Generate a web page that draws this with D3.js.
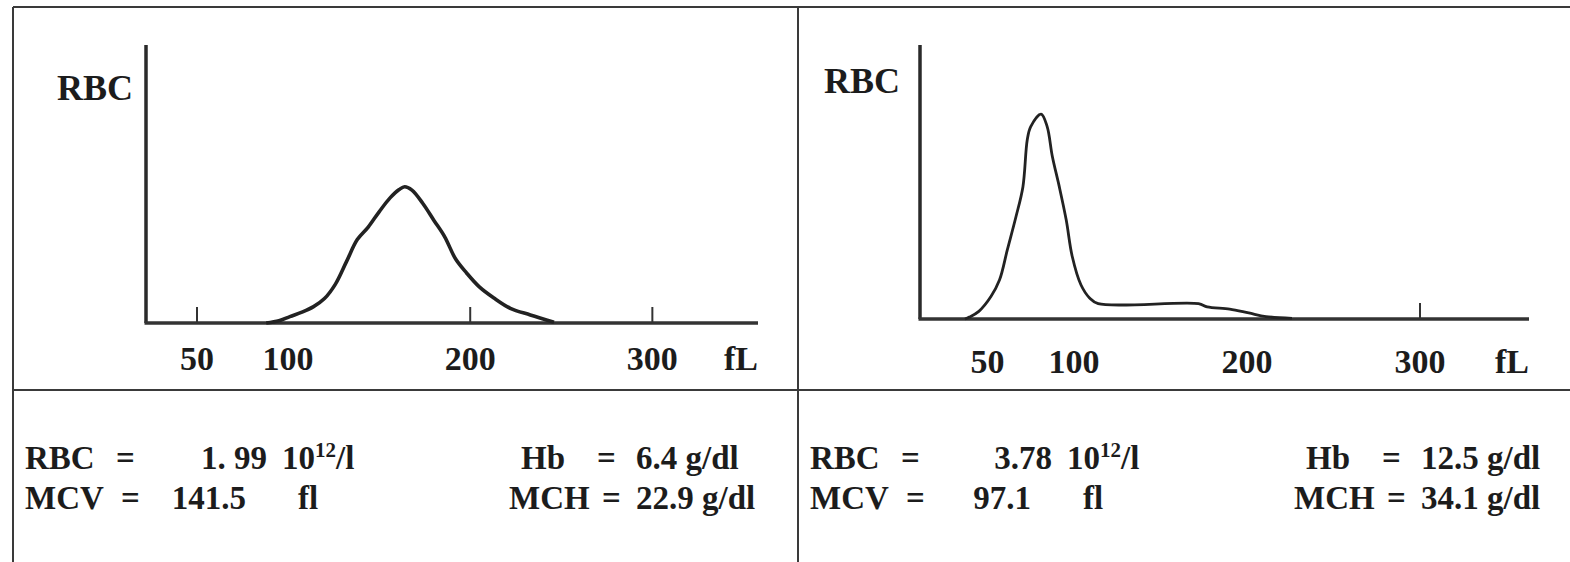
<!DOCTYPE html>
<html>
<head>
<meta charset="utf-8">
<script src="https://cdn.jsdelivr.net/npm/d3@7"></script>
<style>
  html, body { margin: 0; padding: 0; background: #fff; }
  svg { display: block; }
  text { font-family: "Liberation Serif", "Times New Roman", serif; font-weight: bold; fill: #1c1c1c; }
</style>
</head>
<body>
<div id="d3_chart"></div>
<script>
// RBC volume histograms (fL vs relative count)
const fl_left = [88, 95, 101, 108, 114, 120, 126, 132, 138, 144, 150, 156, 161, 164, 168, 174, 180, 186, 192, 198, 205, 213, 222, 233, 246]
const count_left = [0, 0.8, 2.3, 4.0, 5.9, 8.8, 14, 22, 30, 34.5, 40, 45, 48, 49, 47.8, 43, 37, 31, 23, 18, 13, 9, 5.3, 2.9, 0.3]
const fl_right = [37, 39.5, 45, 52, 57, 61.5, 66.5, 70.5, 73, 75, 81, 84.5, 87.5, 91.5, 95.5, 99, 104, 109, 114, 172, 177, 190, 201, 211, 226]
const count_right = [0, 0.7, 2.8, 8.2, 14.3, 25.3, 37.4, 48.3, 65.4, 70.2, 74.8, 70.2, 59.3, 48.3, 36.2, 22.8, 12.5, 7.7, 5.6, 5.6, 4.4, 3.6, 2.2, 0.9, 0.2]
const tick_labels = [50, 100, 200, 300]
const ticks_left = [50, 200, 300]
const ticks_right = [300]

// blood count values under each histogram
const rbc_values = ['1. 99', '3.78']
const mcv_values = ['141.5', '97.1']
const hb_values = ['6.4', '12.5']
const mch_values = ['22.9', '34.1']

const W = 1570, H = 562
const panels = [
	{x0: 13, range: [146, 758], domain: [22, 358], top: 45, base: 323, ticks: ticks_left, fl: fl_left, count: count_left, label_y: 370, rbc: [133, 100]},
	{x0: 798, range: [920, 1529], domain: [11, 363], top: 45, base: 319, ticks: ticks_right, fl: fl_right, count: count_right, label_y: 373, rbc: [900, 93]}
]

const svg = d3.select('#d3_chart').append('svg')
	.attr('width', W).attr('height', H)

// table lines
const grid = svg.append('g').attr('stroke', '#3a3a3a').attr('stroke-width', 2)
grid.append('line').attr('x1', 13).attr('x2', W).attr('y1', 7).attr('y2', 7)
grid.append('line').attr('x1', 13).attr('x2', W).attr('y1', 390).attr('y2', 390)
grid.append('line').attr('x1', 13).attr('x2', 13).attr('y1', 7).attr('y2', H)
grid.append('line').attr('x1', 798).attr('x2', 798).attr('y1', 7).attr('y2', H)

panels.forEach((p, i) => {
	const x = d3.scaleLinear().domain(p.domain).range(p.range)
	const y = d3.scaleLinear().domain([0, 100]).range([p.base, p.top])
	const g = svg.append('g')

	// y axis
	g.append('line')
		.attr('x1', p.range[0]).attr('x2', p.range[0])
		.attr('y1', y(100)).attr('y2', y(0))
		.attr('stroke', '#2a2a2a').attr('stroke-width', 3.5)
	// x axis
	g.append('line')
		.attr('x1', p.range[0] - 1.5).attr('x2', p.range[1])
		.attr('y1', y(0)).attr('y2', y(0))
		.attr('stroke', '#333').attr('stroke-width', 3.5)
	g.selectAll('.tick').data(p.ticks).enter().append('line')
		.attr('class', 'tick')
		.attr('x1', d => x(d)).attr('x2', d => x(d))
		.attr('y1', y(0)).attr('y2', y(0) - 16)
		.attr('stroke', '#333').attr('stroke-width', 2)

	g.selectAll('.tlabel').data(tick_labels).enter().append('text')
		.attr('class', 'tlabel')
		.attr('x', d => x(d)).attr('y', p.label_y)
		.attr('text-anchor', 'middle')
		.style('font-size', '34px')
		.text(d => d)
	g.append('text')
		.attr('x', p.range[1]).attr('y', p.label_y)
		.attr('text-anchor', 'end')
		.style('font-size', '34px')
		.text('fL')
	g.append('text')
		.attr('x', p.rbc[0]).attr('y', p.rbc[1])
		.attr('text-anchor', 'end')
		.style('font-size', '36px')
		.text('RBC')

	const line = d3.line()
		.x((d, j) => x(p.fl[j]))
		.y(d => y(d))
		.curve(d3.curveCatmullRom.alpha(0.5))
	g.append('path')
		.attr('d', line(p.count))
		.attr('fill', 'none')
		.attr('stroke', '#222')
		.attr('stroke-width', i == 0 ? 3.6 : 2.8)
		.attr('stroke-linejoin', 'round')

	// values table
	const t = svg.append('g').style('font-size', '33px')
	const r1 = 469, r2 = 509
	t.append('text').attr('x', p.x0 + 12).attr('y', r1).text('RBC')
	t.append('text').attr('x', p.x0 + 103).attr('y', r1).text('=')
	t.append('text').attr('x', p.x0 + 254).attr('y', r1).attr('text-anchor', 'end').text(rbc_values[i])
	const u = t.append('text').attr('x', p.x0 + 269).attr('y', r1)
	u.append('tspan').text('10')
	u.append('tspan').attr('dy', -12).style('font-size', '21px').text('12')
	u.append('tspan').attr('dy', 12).text('/l')

	t.append('text').attr('x', p.x0 + 12).attr('y', r2).text('MCV')
	t.append('text').attr('x', p.x0 + 108).attr('y', r2).text('=')
	t.append('text').attr('x', p.x0 + 233).attr('y', r2).attr('text-anchor', 'end').text(mcv_values[i])
	t.append('text').attr('x', p.x0 + 285).attr('y', r2).text('fl')

	t.append('text').attr('x', p.x0 + 508).attr('y', r1).text('Hb')
	t.append('text').attr('x', p.x0 + 584).attr('y', r1).text('=')
	t.append('text').attr('x', p.x0 + 623).attr('y', r1).text(hb_values[i] + ' g/dl')
	t.append('text').attr('x', p.x0 + 496).attr('y', r2).text('MCH')
	t.append('text').attr('x', p.x0 + 589).attr('y', r2).text('=')
	t.append('text').attr('x', p.x0 + 623).attr('y', r2).text(mch_values[i] + ' g/dl')
})
</script>
</body>
</html>
